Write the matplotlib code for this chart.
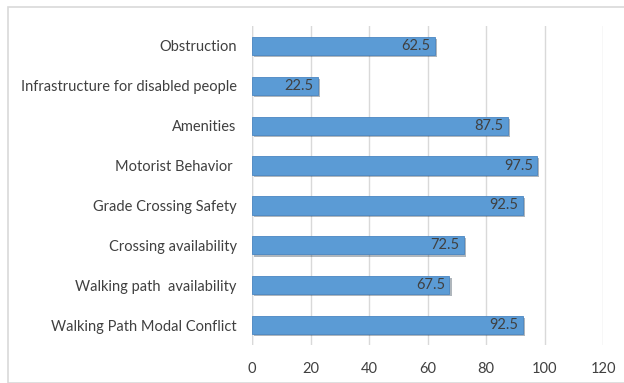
import matplotlib
matplotlib.use("Agg")
import matplotlib.pyplot as plt
import matplotlib.patheffects as pe
from matplotlib.patches import Rectangle

categories = [
    "Walking Path Modal Conflict",
    "Walking path  availability",
    "Crossing availability",
    "Grade Crossing Safety",
    "Motorist Behavior ",
    "Amenities",
    "Infrastructure for disabled people",
    "Obstruction",
]
values = [92.5, 67.5, 72.5, 92.5, 97.5, 87.5, 22.5, 62.5]
ticks = [0, 20, 40, 60, 80, 100, 120]

text_color = "#404040"
plt.rcParams["font.family"] = ["Lato", "DejaVu Sans"]

fig = plt.figure(figsize=(6.24, 3.83), dpi=100)
fig.patches.append(Rectangle((8 / 624, 0), 1, 1 - 7 / 383, transform=fig.transFigure,
                             fill=False, edgecolor="#d9d9d9", linewidth=1.2))
ax = fig.add_axes([252 / 624, 1 - 345 / 383, 351 / 624, 319 / 383])

y = list(range(len(categories)))
bars = ax.barh(y, values, height=0.46, color="#5b9bd5", edgecolor="#4a86c2",
               linewidth=0.6, zorder=3)
for b in bars:
    b.set_path_effects([pe.SimplePatchShadow(offset=(1.5, -1.5), alpha=0.35), pe.Normal()])

for yi, v in zip(y, values):
    ax.text(v - 1.5, yi, str(v), ha="right", va="center", color=text_color,
            fontsize=10.5, zorder=4)

ax.set_xlim(0, 120)
ax.set_ylim(-0.5, len(categories) - 0.5)
ax.set_xticks(ticks)
ax.set_yticks(y)
ax.set_yticklabels(categories)
ax.tick_params(axis="both", length=0, colors=text_color, labelsize=10.5)
ax.tick_params(axis="x", pad=12)
ax.tick_params(axis="y", pad=11)
ax.grid(axis="x", color="#d9d9d9", linewidth=1, zorder=0)
for s in ax.spines.values():
    s.set_visible(False)
ax.axvline(0, color="#d9d9d9", linewidth=1, zorder=1)

fig.savefig("out.png", dpi=100)
